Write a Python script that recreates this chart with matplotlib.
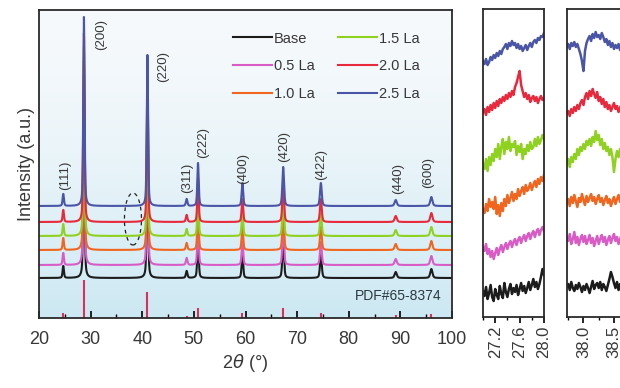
import numpy as np
import matplotlib.pyplot as plt
from matplotlib.patches import Ellipse
from matplotlib.ticker import MultipleLocator, FormatStrFormatter

plt.rcParams['font.family'] = ['Liberation Sans', 'DejaVu Sans']

# samples, bottom to top
samples = ['Base', '0.5 La', '1.0 La', '1.5 La', '2.0 La', '2.5 La']
colors = ['#1c1c1c', '#d95cc6', '#f0661e', '#8fd11f', '#e8283c', '#4a55a8']
offsets = [40, 53, 68, 82, 96, 112]

# diffraction peaks
peak_pos = [24.7, 28.7, 41.0, 48.6, 50.8, 59.4, 67.3, 74.6, 89.1, 96.0]
peak_hkl = ['(111)', '(200)', '(220)', '(311)', '(222)', '(400)', '(420)', '(422)', '(440)', '(600)']
peak_height = [12, 189, 151, 7, 43, 23, 39, 23, 6, 9]
peak_fwhm = [0.3, 0.3, 0.3, 0.35, 0.32, 0.35, 0.38, 0.4, 0.5, 0.5]

# PDF#65-8374 reference sticks
ref_pos = peak_pos
ref_height = [5, 38, 26, 2, 10, 5, 10, 5, 3, 4]

# zoomed windows
win1_x = np.linspace(27.0, 28.0, 41)
win1 = {
    'Base': [26, 21, 30, 18, 24, 32, 20, 16, 28, 22, 18, 31, 23, 19, 34, 25, 20, 28, 33, 23,
             29, 25, 32, 22, 28, 34, 26, 31, 24, 29, 35, 27, 32, 38, 30, 35, 28, 33, 40, 48, 42],
    '0.5 La': [70, 66, 73, 63, 68, 60, 66, 58, 64, 69, 62, 68, 72, 65, 70, 74, 68, 73, 76, 70,
               75, 78, 72, 77, 80, 74, 79, 82, 76, 81, 84, 78, 83, 86, 80, 85, 88, 82, 87, 90, 86],
    '1.0 La': [108, 104, 113, 106, 118, 110, 115, 108, 120, 103, 112, 101, 114, 106, 118, 111, 122, 114, 119, 125,
               116, 123, 118, 128, 121, 126, 130, 123, 132, 126, 129, 134, 127, 132, 136, 130, 138, 133, 140, 136, 142],
    '1.5 La': [153, 148, 158, 146, 160, 152, 163, 156, 168, 160, 173, 158, 170, 178, 163, 175, 168, 180, 166, 173,
               170, 176, 162, 171, 165, 173, 158, 168, 163, 172, 166, 175, 168, 170, 178, 171, 180, 173, 177, 182, 178],
    '2.0 La': [204, 208, 202, 210, 205, 212, 207, 214, 209, 216, 211, 218, 214, 220, 216, 222, 218, 224, 220, 226,
               222, 230, 234, 240, 246, 232, 226, 220, 224, 218, 222, 215, 219, 221, 216, 220, 214, 218, 221, 217, 219],
    '2.5 La': [256, 253, 258, 252, 255, 260, 257, 262, 259, 264, 261, 266, 263, 268, 270, 273, 268, 274, 271, 276,
               272, 274, 269, 273, 268, 271, 266, 269, 272, 267, 271, 274, 270, 275, 277, 274, 279, 277, 281, 280, 284],
}

win2_x = np.linspace(37.725, 38.725, 41)
win2 = {
    'Base': [30, 33, 27, 35, 29, 26, 32, 28, 34, 30, 25, 31, 27, 33, 29, 24, 30, 36, 28, 32,
             34, 29, 35, 27, 33, 30, 26, 32, 38, 45, 40, 34, 29, 35, 27, 33, 29, 35, 30, 26, 31],
    '0.5 La': [80, 76, 83, 73, 78, 85, 74, 80, 72, 78, 82, 75, 81, 73, 77, 82, 74, 79, 71, 76,
               81, 73, 78, 82, 75, 80, 72, 77, 81, 74, 79, 83, 76, 80, 73, 78, 82, 75, 79, 72, 77],
    '1.0 La': [113, 118, 111, 120, 114, 122, 116, 110, 119, 115, 123, 117, 112, 121, 115, 119, 123, 116, 120, 113,
               118, 122, 115, 119, 112, 117, 121, 114, 118, 111, 116, 120, 113, 118, 122, 115, 119, 113, 117, 120, 115],
    '1.5 La': [153, 158, 150, 160, 155, 163, 158, 168, 162, 170, 166, 173, 168, 176, 172, 178, 171, 180, 175, 186,
               177, 182, 172, 178, 168, 174, 166, 170, 162, 168, 160, 145, 158, 166, 160, 168, 156, 162, 159, 165, 160],
    '2.0 La': [203, 206, 201, 208, 204, 210, 206, 212, 208, 214, 217, 212, 220, 224, 218, 226, 221, 228, 223, 219,
               225, 216, 220, 213, 218, 210, 215, 208, 212, 206, 210, 214, 208, 211, 205, 209, 213, 207, 210, 206, 209],
    '2.5 La': [270, 273, 268, 274, 271, 275, 270, 273, 268, 263, 256, 246, 266, 274, 278, 281, 276, 283, 279, 285,
               280, 282, 278, 284, 280, 275, 278, 272, 276, 270, 274, 268, 272, 269, 273, 267, 271, 274, 269, 272, 270],
}

# where the hkl labels sit (data coords)
label_x = [25.0, 32.0, 44.0, 48.7, 51.8, 59.5, 67.5, 74.6, 89.5, 95.3]
label_y = [143, 284, 251, 140, 175, 150, 171, 153, 140, 145]

TXT = '#383838'
H = 308

fig = plt.figure(figsize=(6.2, 3.88), dpi=100)
ax = fig.add_axes([39 / 620, 70 / 388, 413 / 620, 308 / 388])

# light blue gradient behind the patterns
t = np.linspace(0, 1, 256) ** 1.6
top = np.array([0.965, 0.978, 0.988])
bot = np.array([0.80, 0.91, 0.95])
grad = (top[None, :] * (1 - t[:, None]) + bot[None, :] * t[:, None])[:, None, :]
ax.imshow(grad, extent=(20, 100, 0, H), aspect='auto', zorder=0)

x = np.arange(20, 100.001, 0.005)
eta = 0.45
for name, c, off in zip(samples, colors, offsets):
    y = np.full_like(x, off, dtype=float)
    for p, h, w in zip(peak_pos, peak_height, peak_fwhm):
        g = w / 2
        lor = g ** 2 / ((x - p) ** 2 + g ** 2)
        gau = np.exp(-np.log(2) * ((x - p) / g) ** 2)
        y += h * (eta * lor + (1 - eta) * gau)
    ax.plot(x, y, color=c, lw=1.5, label=name, zorder=2)

ax.vlines(ref_pos, 0, ref_height, color='#d8305a', lw=1.5, zorder=2)

for lbl, lx, ly in zip(peak_hkl, label_x, label_y):
    ax.text(lx, ly, lbl, rotation=90, ha='center', va='center', fontsize=9.5, color=TXT)

ax.text(98, 22, 'PDF#65-8374', ha='right', va='center', fontsize=10, color='#2a3a40')
ax.add_patch(Ellipse((38.2, 99), 3.3, 52, fill=False, ls=(0, (3, 3)), lw=0.9, color='#222222', zorder=3))

ax.set_xlim(20, 100)
ax.set_ylim(0, H)
ax.set_yticks([])
ax.xaxis.set_major_locator(MultipleLocator(10))
ax.xaxis.set_minor_locator(MultipleLocator(5))
ax.tick_params(axis='x', which='major', direction='in', length=5, width=1.2, labelsize=13,
               labelcolor=TXT, pad=9)
ax.tick_params(axis='x', which='minor', direction='in', length=3, width=1)
ax.set_xlabel(r'2$\it{\theta}$ (°)', fontsize=13, color=TXT, labelpad=3)
ax.set_ylabel('Intensity (a.u.)', fontsize=13, color=TXT, labelpad=3)
for s in ax.spines.values():
    s.set_linewidth(1.3)
    s.set_color('#2a2a2a')

leg = ax.legend(ncol=2, loc='upper left', bbox_to_anchor=(0.47, 0.93), frameon=False,
                fontsize=10.5, handlelength=2.7, handletextpad=0.1, columnspacing=1.6,
                labelspacing=0.95, borderpad=0, borderaxespad=0)
for t_ in leg.get_texts():
    t_.set_color(TXT)

# zoomed panels
for left, wx, wd, xlim, major in [(483, win1_x, win1, (27.0, 28.0), 0.4),
                                  (567, win2_x, win2, (37.73, 38.73), 0.5)]:
    a = fig.add_axes([left / 620, 71 / 388, 61 / 620, 308 / 388])
    for name, c in zip(samples, colors):
        a.plot(wx, wd[name], color=c, lw=1.8)
    a.set_xlim(*xlim)
    a.set_ylim(0, H)
    a.set_yticks([])
    a.xaxis.set_major_locator(MultipleLocator(major))
    a.xaxis.set_minor_locator(MultipleLocator(major / 2))
    a.xaxis.set_major_formatter(FormatStrFormatter('%.1f'))
    a.tick_params(axis='x', which='major', direction='out', length=4, width=1.2, labelsize=12,
                  labelcolor=TXT, labelrotation=90, pad=2)
    a.tick_params(axis='x', which='minor', direction='out', length=2.5, width=1)
    for s in a.spines.values():
        s.set_linewidth(1.3)
        s.set_color('#2a2a2a')

fig.savefig('out.png', dpi=100, facecolor='white')
